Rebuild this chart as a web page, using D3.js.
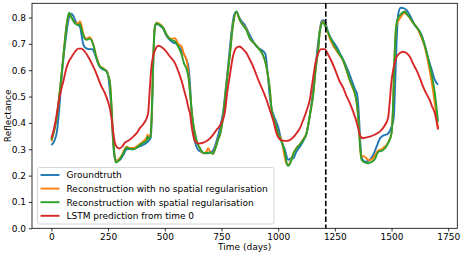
<!DOCTYPE html>
<html>
<head>
<meta charset="utf-8">
<script src="https://cdn.jsdelivr.net/npm/d3@7"></script>
<style>
  body { margin: 0; background: #fff; }
  svg { display: block; font-family: "DejaVu Sans", sans-serif; }
</style>
</head>
<body>
<svg id="chart" width="463" height="256"></svg>
<script>
// [day, reflectance]
const groundtruth = [[0,0.316],[12,0.33],[25,0.37],[37,0.48],[48,0.6],[60,0.696],[74,0.785],[86,0.815],[96,0.808],[104,0.79],[118,0.772],[126,0.765],[133,0.734],[140,0.70],[150,0.685],[165,0.68],[180,0.68],[190,0.665],[200,0.64],[214,0.612],[228,0.603],[243,0.598],[252,0.57],[258,0.52],[265,0.45],[272,0.33],[280,0.265],[290,0.255],[305,0.262],[318,0.28],[331,0.30],[345,0.302],[361,0.30],[380,0.308],[400,0.315],[420,0.325],[432,0.335],[438,0.345],[444,0.45],[450,0.65],[456,0.76],[464,0.775],[478,0.77],[493,0.757],[508,0.73],[522,0.715],[537,0.705],[552,0.7],[566,0.685],[581,0.665],[596,0.64],[605,0.61],[611,0.55],[618,0.45],[625,0.38],[633,0.33],[645,0.3],[660,0.29],[677,0.285],[691,0.285],[705,0.29],[713,0.295],[728,0.33],[743,0.38],[757,0.44],[770,0.54],[782,0.64],[795,0.75],[806,0.81],[816,0.822],[828,0.80],[840,0.785],[853,0.772],[868,0.745],[883,0.72],[905,0.69],[920,0.68],[934,0.672],[944,0.66],[953,0.595],[963,0.50],[970,0.46],[985,0.418],[1000,0.385],[1015,0.33],[1029,0.3],[1044,0.26],[1055,0.265],[1066,0.265],[1080,0.29],[1096,0.31],[1110,0.33],[1125,0.36],[1140,0.43],[1155,0.53],[1168,0.64],[1180,0.73],[1191,0.785],[1198,0.79],[1206,0.785],[1220,0.745],[1235,0.718],[1257,0.69],[1275,0.66],[1294,0.627],[1310,0.595],[1324,0.563],[1340,0.525],[1348,0.51],[1353,0.47],[1358,0.40],[1362,0.33],[1368,0.27],[1382,0.253],[1400,0.257],[1420,0.28],[1434,0.31],[1448,0.34],[1460,0.35],[1485,0.36],[1500,0.385],[1510,0.42],[1516,0.55],[1522,0.70],[1529,0.81],[1540,0.837],[1555,0.835],[1566,0.828],[1580,0.81],[1602,0.772],[1617,0.755],[1632,0.734],[1645,0.70],[1654,0.67],[1665,0.635],[1676,0.605],[1690,0.565],[1705,0.545]];

const noSpatialReg = [[0,0.33],[12,0.368],[23,0.418],[37,0.52],[52,0.646],[67,0.77],[78,0.815],[89,0.80],[104,0.78],[118,0.778],[126,0.785],[133,0.77],[140,0.74],[155,0.72],[170,0.725],[184,0.70],[199,0.65],[214,0.616],[228,0.608],[243,0.597],[252,0.577],[258,0.555],[265,0.468],[272,0.342],[278,0.282],[284,0.255],[295,0.26],[309,0.275],[320,0.295],[331,0.31],[345,0.305],[361,0.305],[375,0.31],[390,0.32],[405,0.33],[420,0.345],[424,0.355],[430,0.345],[436,0.35],[442,0.42],[448,0.6],[453,0.73],[458,0.772],[464,0.78],[478,0.775],[493,0.762],[508,0.735],[522,0.72],[537,0.72],[545,0.722],[559,0.70],[574,0.69],[585,0.66],[596,0.639],[605,0.58],[611,0.52],[618,0.45],[625,0.40],[633,0.36],[645,0.32],[655,0.303],[669,0.285],[683,0.29],[691,0.304],[699,0.292],[713,0.283],[722,0.302],[735,0.337],[745,0.362],[757,0.422],[772,0.546],[787,0.66],[801,0.775],[816,0.82],[831,0.79],[845,0.772],[860,0.755],[875,0.722],[897,0.70],[919,0.677],[934,0.655],[945,0.625],[955,0.58],[963,0.53],[971,0.45],[985,0.405],[1000,0.36],[1015,0.335],[1029,0.27],[1037,0.245],[1044,0.24],[1055,0.255],[1066,0.283],[1081,0.306],[1096,0.32],[1110,0.337],[1125,0.362],[1140,0.43],[1155,0.51],[1165,0.6],[1177,0.685],[1184,0.752],[1198,0.785],[1206,0.775],[1220,0.74],[1228,0.72],[1242,0.695],[1264,0.665],[1286,0.636],[1300,0.603],[1316,0.56],[1330,0.53],[1338,0.51],[1346,0.478],[1352,0.43],[1357,0.37],[1362,0.30],[1368,0.27],[1375,0.275],[1390,0.265],[1400,0.258],[1412,0.262],[1426,0.275],[1441,0.295],[1448,0.297],[1463,0.305],[1485,0.325],[1500,0.362],[1506,0.45],[1512,0.62],[1518,0.74],[1525,0.78],[1540,0.80],[1555,0.817],[1570,0.81],[1590,0.785],[1610,0.765],[1624,0.74],[1646,0.69],[1668,0.6],[1680,0.54],[1690,0.48],[1705,0.38]];

const withSpatialReg = [[0,0.335],[12,0.37],[23,0.418],[37,0.52],[52,0.646],[67,0.772],[78,0.818],[89,0.80],[104,0.778],[118,0.772],[126,0.776],[133,0.755],[140,0.734],[155,0.715],[170,0.72],[184,0.698],[199,0.646],[214,0.614],[228,0.606],[243,0.595],[252,0.575],[258,0.555],[265,0.468],[272,0.342],[278,0.28],[284,0.25],[295,0.255],[309,0.272],[320,0.29],[331,0.307],[345,0.302],[361,0.30],[375,0.305],[390,0.316],[405,0.325],[420,0.333],[424,0.348],[430,0.34],[436,0.345],[442,0.42],[448,0.6],[453,0.73],[458,0.77],[464,0.778],[478,0.772],[493,0.76],[508,0.735],[522,0.72],[537,0.712],[545,0.709],[559,0.69],[574,0.66],[585,0.625],[596,0.605],[605,0.57],[611,0.52],[618,0.45],[625,0.40],[633,0.36],[645,0.32],[655,0.305],[669,0.287],[685,0.286],[699,0.288],[713,0.283],[722,0.3],[735,0.335],[745,0.36],[757,0.42],[772,0.544],[787,0.657],[801,0.772],[816,0.823],[831,0.79],[845,0.77],[860,0.752],[875,0.72],[897,0.70],[919,0.677],[934,0.655],[945,0.625],[955,0.58],[963,0.53],[971,0.45],[985,0.405],[1000,0.36],[1015,0.329],[1029,0.29],[1037,0.25],[1044,0.237],[1055,0.25],[1066,0.28],[1081,0.304],[1096,0.318],[1110,0.335],[1125,0.36],[1140,0.43],[1155,0.51],[1165,0.6],[1177,0.68],[1184,0.747],[1198,0.782],[1206,0.77],[1220,0.745],[1228,0.728],[1242,0.702],[1264,0.67],[1286,0.639],[1300,0.605],[1316,0.563],[1330,0.535],[1338,0.513],[1346,0.48],[1352,0.43],[1357,0.37],[1362,0.30],[1368,0.26],[1382,0.25],[1397,0.247],[1412,0.252],[1426,0.262],[1441,0.29],[1463,0.297],[1485,0.323],[1500,0.36],[1506,0.45],[1512,0.62],[1518,0.74],[1525,0.79],[1540,0.812],[1559,0.823],[1570,0.81],[1580,0.80],[1602,0.772],[1624,0.747],[1646,0.696],[1668,0.62],[1680,0.57],[1690,0.519],[1705,0.405]];

const lstmPrediction = [[0,0.342],[12,0.38],[23,0.43],[37,0.503],[52,0.555],[67,0.61],[78,0.635],[89,0.65],[104,0.67],[118,0.682],[133,0.682],[148,0.67],[163,0.65],[177,0.627],[192,0.60],[206,0.57],[220,0.54],[235,0.515],[250,0.48],[258,0.455],[265,0.418],[272,0.37],[280,0.325],[290,0.307],[300,0.303],[312,0.31],[324,0.325],[339,0.332],[361,0.348],[375,0.36],[390,0.38],[405,0.395],[420,0.418],[427,0.44],[434,0.53],[442,0.62],[449,0.655],[460,0.682],[471,0.693],[482,0.69],[500,0.677],[520,0.655],[545,0.627],[560,0.595],[574,0.56],[588,0.515],[596,0.49],[605,0.455],[611,0.437],[618,0.39],[625,0.355],[633,0.33],[650,0.322],[670,0.325],[691,0.335],[710,0.352],[728,0.373],[750,0.40],[765,0.44],[776,0.52],[787,0.58],[800,0.65],[816,0.685],[830,0.69],[845,0.68],[860,0.665],[875,0.64],[890,0.614],[905,0.58],[919,0.55],[934,0.52],[949,0.487],[963,0.45],[978,0.41],[993,0.36],[1007,0.338],[1020,0.333],[1035,0.332],[1051,0.335],[1066,0.345],[1080,0.36],[1096,0.38],[1110,0.41],[1125,0.445],[1140,0.49],[1154,0.57],[1165,0.63],[1177,0.665],[1191,0.68],[1205,0.68],[1220,0.66],[1235,0.635],[1257,0.589],[1270,0.56],[1286,0.535],[1300,0.505],[1316,0.475],[1330,0.445],[1340,0.42],[1353,0.38],[1362,0.35],[1375,0.342],[1390,0.345],[1404,0.348],[1425,0.355],[1448,0.367],[1470,0.39],[1485,0.42],[1492,0.48],[1500,0.56],[1507,0.6],[1522,0.65],[1537,0.665],[1551,0.67],[1566,0.665],[1580,0.652],[1595,0.625],[1610,0.6],[1625,0.57],[1639,0.538],[1654,0.51],[1668,0.487],[1680,0.46],[1690,0.44],[1705,0.375]];

const seriesNames = ['Groundtruth', 'Reconstruction with no spatial regularisation', 'Reconstruction with spatial regularisation', 'LSTM prediction from time 0'];
const seriesColors = ['#1f77b4', '#ff7f0e', '#2ca02c', '#d62728'];
const xTicks = [0, 250, 500, 750, 1000, 1250, 1500, 1750];
const yTicks = [0.0, 0.1, 0.2, 0.3, 0.4, 0.5, 0.6, 0.7, 0.8];
const splitDay = 1210;

const svg = d3.select('#chart');
const box = { left: 32, right: 457.3, top: 3.3, bottom: 228.3 };

const x = d3.scaleLinear().domain([-85.5, 1790]).range([box.left, box.right]);
const y = d3.scaleLinear().domain([0, 0.854]).range([box.bottom, box.top]);

const plot = svg.append('g');
const line = d3.line().x(d => x(d[0])).y(d => y(d[1])).curve(d3.curveMonotoneX);

[groundtruth, noSpatialReg, withSpatialReg, lstmPrediction].forEach((s, i) => {
    plot.append('path')
        .datum(s)
        .attr('fill', 'none')
        .attr('stroke', seriesColors[i])
        .attr('stroke-width', 1.9)
        .attr('stroke-linejoin', 'round')
        .attr('d', line);
});

// dashed split line
plot.append('line')
    .attr('x1', x(splitDay)).attr('x2', x(splitDay))
    .attr('y1', box.top).attr('y2', box.bottom)
    .attr('stroke', '#000')
    .attr('stroke-width', 1.6)
    .attr('stroke-dasharray', '5.5,2.4');

// axes
const xAxis = svg.append('g')
    .attr('transform', `translate(0,${box.bottom})`)
    .call(d3.axisBottom(x).tickValues(xTicks).tickSize(3.2).tickPadding(2.6).tickFormat(d3.format('d')));
const yAxis = svg.append('g')
    .attr('transform', `translate(${box.left},0)`)
    .call(d3.axisLeft(y).tickValues(yTicks).tickSize(3.2).tickPadding(2.8).tickFormat(d3.format('.1f')));

[xAxis, yAxis].forEach(g => {
    g.select('.domain').remove();
    g.selectAll('line').attr('stroke', '#000').attr('stroke-width', 0.8);
    g.selectAll('text').attr('font-size', 9).attr('fill', '#000').attr('font-family', '"DejaVu Sans", sans-serif');
});

svg.append('rect')
    .attr('x', box.left).attr('y', box.top)
    .attr('width', box.right - box.left).attr('height', box.bottom - box.top)
    .attr('fill', 'none').attr('stroke', '#000').attr('stroke-width', 0.8);

svg.append('text')
    .attr('x', (box.left + box.right) / 2).attr('y', 250)
    .attr('text-anchor', 'middle').attr('font-size', 9)
    .text('Time (days)');

svg.append('text')
    .attr('transform', `translate(10.5,${(box.top + box.bottom) / 2}) rotate(-90)`)
    .attr('text-anchor', 'middle').attr('font-size', 9)
    .text('Reflectance');

// legend
const legend = svg.append('g');
legend.append('rect')
    .attr('x', 37.5).attr('y', 167.5).attr('width', 236.5).attr('height', 56.5)
    .attr('rx', 2).attr('fill', '#fff').attr('fill-opacity', 0.8)
    .attr('stroke', '#ccc').attr('stroke-width', 0.8);

seriesNames.forEach((name, i) => {
    const cy = 175 + i * 13.6;
    legend.append('line')
        .attr('x1', 40.5).attr('x2', 59.5).attr('y1', cy).attr('y2', cy)
        .attr('stroke', seriesColors[i]).attr('stroke-width', 1.9);
    legend.append('text')
        .attr('x', 66.5).attr('y', cy + 3.3)
        .attr('font-size', 9)
        .text(name);
});
</script>
</body>
</html>
